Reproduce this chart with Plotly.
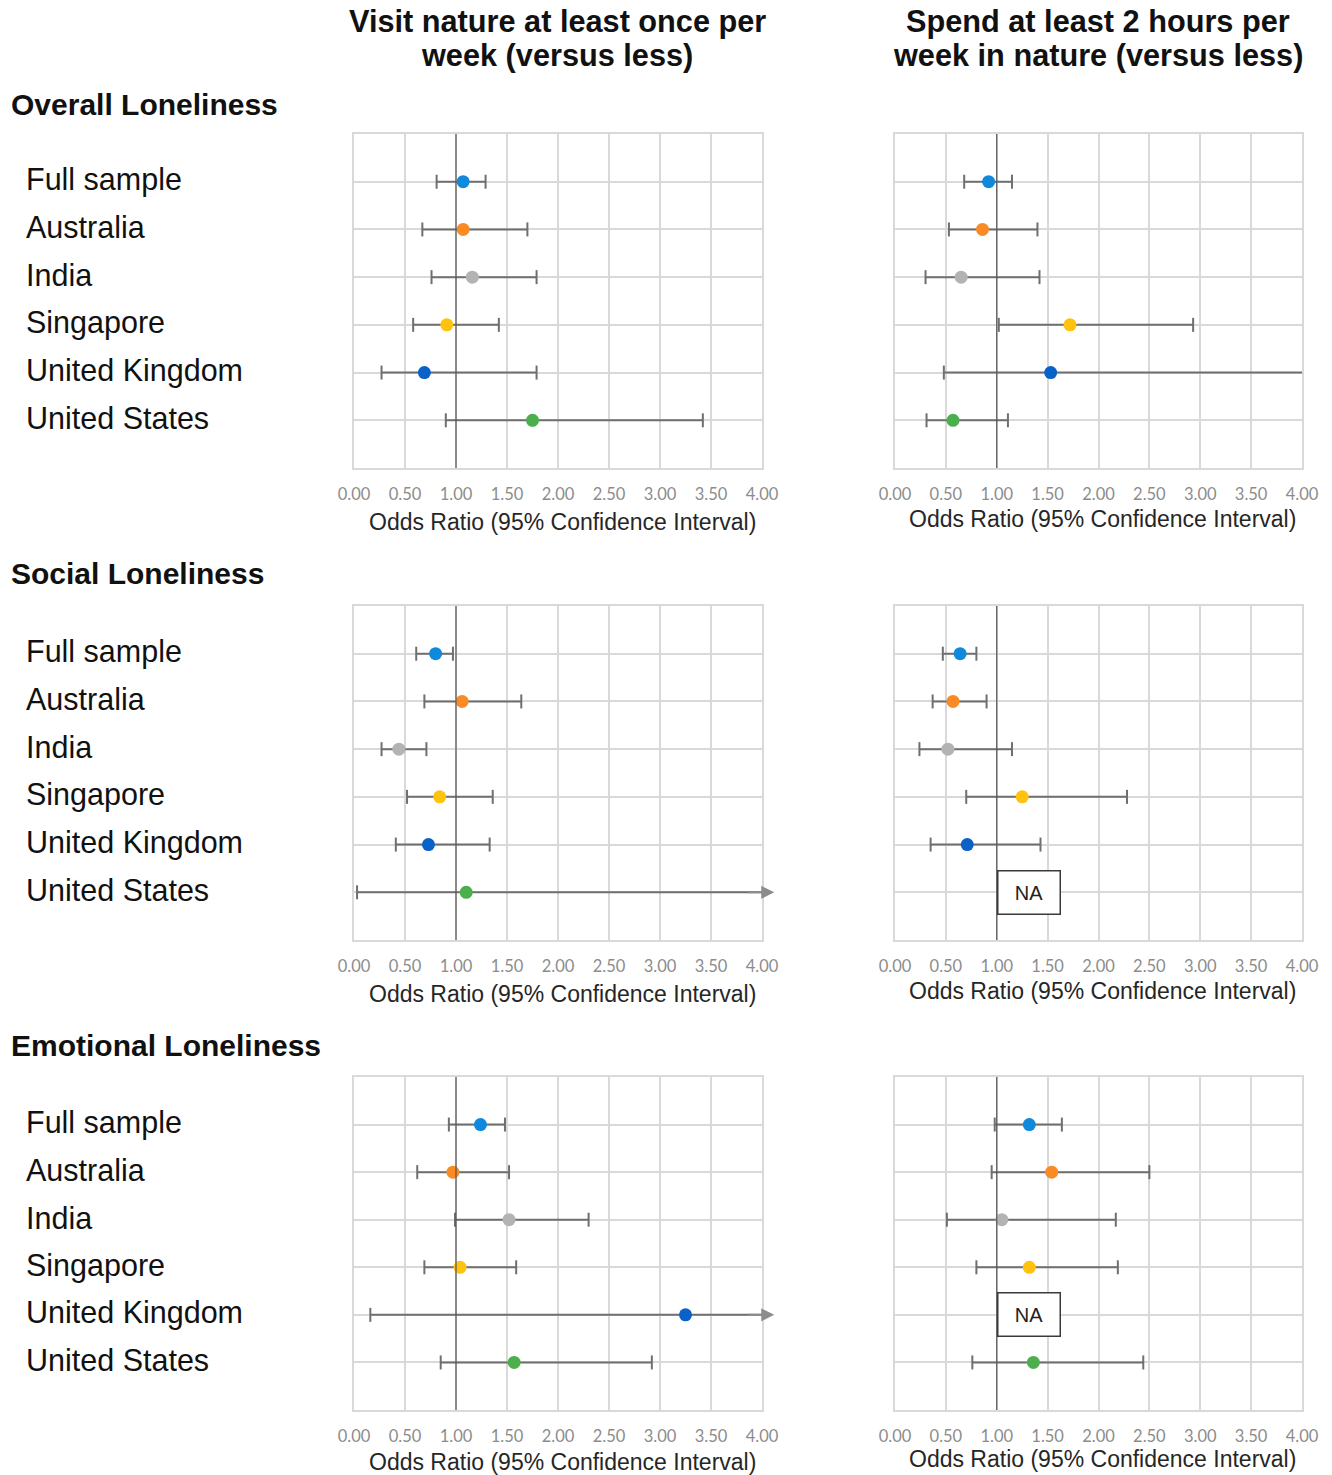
import plotly.graph_objects as go

W, H = 1332, 1475

# ---- data -------------------------------------------------------------
categories = ["Full sample", "Australia", "India", "Singapore",
              "United Kingdom", "United States"]

col_titles = [["Visit nature at least once per", "week (versus less)"],
              ["Spend at least 2 hours per", "week in nature (versus less)"]]
row_titles = ["Overall Loneliness", "Social Loneliness", "Emotional Loneliness"]

tick_vals = [0, 0.5, 1, 1.5, 2, 2.5, 3, 3.5, 4]
tick_text = ["0.00", "0.50", "1.00", "1.50", "2.00", "2.50", "3.00", "3.50", "4.00"]
x_title = "Odds Ratio (95% Confidence Interval)"

# Odds ratios with lower / upper 95% CI bounds.
# None in the odds ratio -> not estimated (NA); None in an upper bound -> beyond 4.00
overall_week_or = [1.07, 1.07, 1.16, 0.91, 0.69, 1.75]
overall_week_lo = [0.81, 0.67, 0.76, 0.58, 0.27, 0.90]
overall_week_hi = [1.29, 1.70, 1.79, 1.42, 1.79, 3.42]

overall_2h_or = [0.92, 0.86, 0.65, 1.72, 1.53, 0.57]
overall_2h_lo = [0.68, 0.53, 0.30, 1.02, 0.48, 0.31]
overall_2h_hi = [1.15, 1.40, 1.42, 2.93, None, 1.11]

social_week_or = [0.80, 1.06, 0.44, 0.84, 0.73, 1.10]
social_week_lo = [0.61, 0.69, 0.27, 0.52, 0.41, 0.03]
social_week_hi = [0.97, 1.64, 0.71, 1.36, 1.33, None]

social_2h_or = [0.64, 0.57, 0.52, 1.25, 0.71, None]
social_2h_lo = [0.47, 0.37, 0.24, 0.70, 0.35, None]
social_2h_hi = [0.80, 0.90, 1.15, 2.28, 1.43, None]

emotional_week_or = [1.24, 0.97, 1.52, 1.04, 3.25, 1.57]
emotional_week_lo = [0.93, 0.62, 0.99, 0.69, 0.16, 0.85]
emotional_week_hi = [1.48, 1.52, 2.30, 1.59, None, 2.92]

emotional_2h_or = [1.32, 1.54, 1.05, 1.32, None, 1.36]
emotional_2h_lo = [0.98, 0.95, 0.51, 0.80, None, 0.76]
emotional_2h_hi = [1.64, 2.50, 2.17, 2.19, None, 2.44]

# ---- styling ----------------------------------------------------------
point_colors = ["#1089dc", "#fa8a24", "#b3b3b3", "#ffc20e", "#0a62c8", "#4cae4c"]
CI_COLOR = "#6f6f6f"
ARROW_COLOR = "#8c8c8c"
GRID = "#d9d9d9"
XMAX = 4.0
ARROW_TIP = 4.12          # arrowhead tip just past the end of the axis

COL_X = [(354, 762), (895, 1302)]      # pixel extents of the plot columns
ROW_Y = [(134, 468), (606, 940), (1077, 1410)]

panels = [
    dict(r=0, c=0, o=overall_week_or, lo=overall_week_lo, hi=overall_week_hi, arrow=True),
    dict(r=0, c=1, o=overall_2h_or, lo=overall_2h_lo, hi=overall_2h_hi, arrow=False),
    dict(r=1, c=0, o=social_week_or, lo=social_week_lo, hi=social_week_hi, arrow=True),
    dict(r=1, c=1, o=social_2h_or, lo=social_2h_lo, hi=social_2h_hi, arrow=True),
    dict(r=2, c=0, o=emotional_week_or, lo=emotional_week_lo, hi=emotional_week_hi, arrow=True),
    dict(r=2, c=1, o=emotional_2h_or, lo=emotional_2h_lo, hi=emotional_2h_hi, arrow=True),
]


def px_x(p):
    return p / W


def px_y(p):
    return 1 - p / H


fig = go.Figure()
annotations = []
shapes = []
layout_axes = {}

for i, p in enumerate(panels, start=1):
    xa = "x" if i == 1 else f"x{i}"
    ya = "y" if i == 1 else f"y{i}"
    x0, x1 = COL_X[p["c"]]
    y0, y1 = ROW_Y[p["r"]]
    rows = list(range(1, len(categories) + 1))

    layout_axes[f"xaxis{'' if i == 1 else i}"] = dict(
        domain=[px_x(x0), px_x(x1)], range=[0, XMAX], anchor=ya,
        automargin=False,
        tickvals=tick_vals, ticktext=tick_text, ticks="",
        tickfont=dict(family="Lato", size=16.5, color="#8c8c8c"),
        ticklabelstandoff=10,
        showgrid=True, gridcolor=GRID, gridwidth=1.6, zeroline=False,
        showline=True, mirror=True, linecolor=GRID, linewidth=1.6,
    )
    layout_axes[f"yaxis{'' if i == 1 else i}"] = dict(
        domain=[px_y(y1), px_y(y0)], range=[7, 0], anchor=xa,
        automargin=False,
        tickvals=list(range(0, 8)), showticklabels=False, ticks="",
        showgrid=True, gridcolor=GRID, gridwidth=1.6, zeroline=False,
        showline=True, mirror=True, linecolor=GRID, linewidth=1.6,
    )

    # reference line at OR = 1
    shapes.append(dict(type="line", xref=xa, yref=ya, x0=1, x1=1, y0=0, y1=7,
                       line=dict(color="#555555", width=1.2), layer="above"))

    for k, r in enumerate(rows):
        o, lo, hi = p["o"][k], p["lo"][k], p["hi"][k]
        if o is None:
            annotations.append(dict(
                xref=xa, yref=ya, x=1.0, y=r, xanchor="left", yanchor="middle",
                text="NA", showarrow=False, width=61, height=42,
                font=dict(family="Liberation Sans", size=20, color="#222222"),
                bgcolor="white", bordercolor="#3a3a3a", borderwidth=1.5, borderpad=0,
            ))
            continue
        top = hi if hi is not None else XMAX
        fig.add_trace(go.Scatter(
            x=[lo, top], y=[r, r], mode="lines", xaxis=xa, yaxis=ya,
            line=dict(color=CI_COLOR, width=2), hoverinfo="skip", showlegend=False,
        ))
        caps = [lo] + ([hi] if hi is not None else [])
        fig.add_trace(go.Scatter(
            x=caps, y=[r] * len(caps), mode="markers", xaxis=xa, yaxis=ya,
            marker=dict(symbol="line-ns", size=10,
                        line=dict(color=CI_COLOR, width=2)),
            hoverinfo="skip", showlegend=False,
        ))
        if hi is None and p["arrow"]:
            # open-ended interval: arrowhead continuing past the axis end
            annotations.append(dict(
                xref=xa, yref=ya, x=ARROW_TIP, y=r,
                axref=xa, ayref=ya, ax=XMAX - 0.15, ay=r,
                text="", showarrow=True, arrowhead=2, arrowsize=1.3,
                arrowwidth=2, arrowcolor=ARROW_COLOR, standoff=0,
            ))

    # odds-ratio points drawn on top
    valid = [k for k in range(len(categories)) if p["o"][k] is not None]
    fig.add_trace(go.Scatter(
        x=[p["o"][k] for k in valid], y=[rows[k] for k in valid],
        mode="markers", xaxis=xa, yaxis=ya,
        marker=dict(size=13, color=[point_colors[k] for k in valid]),
        text=[categories[k] for k in valid], showlegend=False,
        hovertemplate="%{text}: %{x:.2f}<extra></extra>",
    ))

    # axis title under each panel
    annotations.append(dict(
        xref="paper", yref="paper", x=px_x((x0 + x1) / 2 + 4),
        y=px_y(y1 + (54 if p["c"] == 0 else 51) - (2 if p["r"] == 2 else 0)),
        text=x_title, showarrow=False, xanchor="center", yanchor="middle",
        font=dict(family="Liberation Sans", size=23, color="#262626"),
    ))

    # category labels beside the left-column panels
    if p["c"] == 0:
        for k, r in enumerate(rows):
            annotations.append(dict(
                xref="paper", yref=ya, x=px_x(24), y=r, yshift=2,
                text=categories[k], showarrow=False,
                xanchor="left", yanchor="middle",
                font=dict(family="Liberation Sans", size=30.5, color="#111111"),
            ))

# section titles
for title, yc in zip(row_titles, [105, 573, 1045]):
    annotations.append(dict(
        xref="paper", yref="paper", x=px_x(9), y=px_y(yc), text=f"<b>{title}</b>",
        showarrow=False, xanchor="left", yanchor="middle",
        font=dict(family="Liberation Sans", size=30, color="#111111"),
    ))

# column headers
for c, lines in enumerate(col_titles):
    xc = (COL_X[c][0] + COL_X[c][1]) / 2 - 1
    for line, yc in zip(lines, [22, 56]):
        annotations.append(dict(
            xref="paper", yref="paper", x=px_x(xc), y=px_y(yc), text=f"<b>{line}</b>",
            showarrow=False, xanchor="center", yanchor="middle",
            font=dict(family="Liberation Sans", size=30.7, color="#111111"),
        ))

fig.update_layout(
    width=W, height=H, margin=dict(l=0, r=0, t=0, b=0, autoexpand=False),
    paper_bgcolor="white", plot_bgcolor="white",
    annotations=annotations, shapes=shapes, **layout_axes,
)

fig.write_html("out.html")
